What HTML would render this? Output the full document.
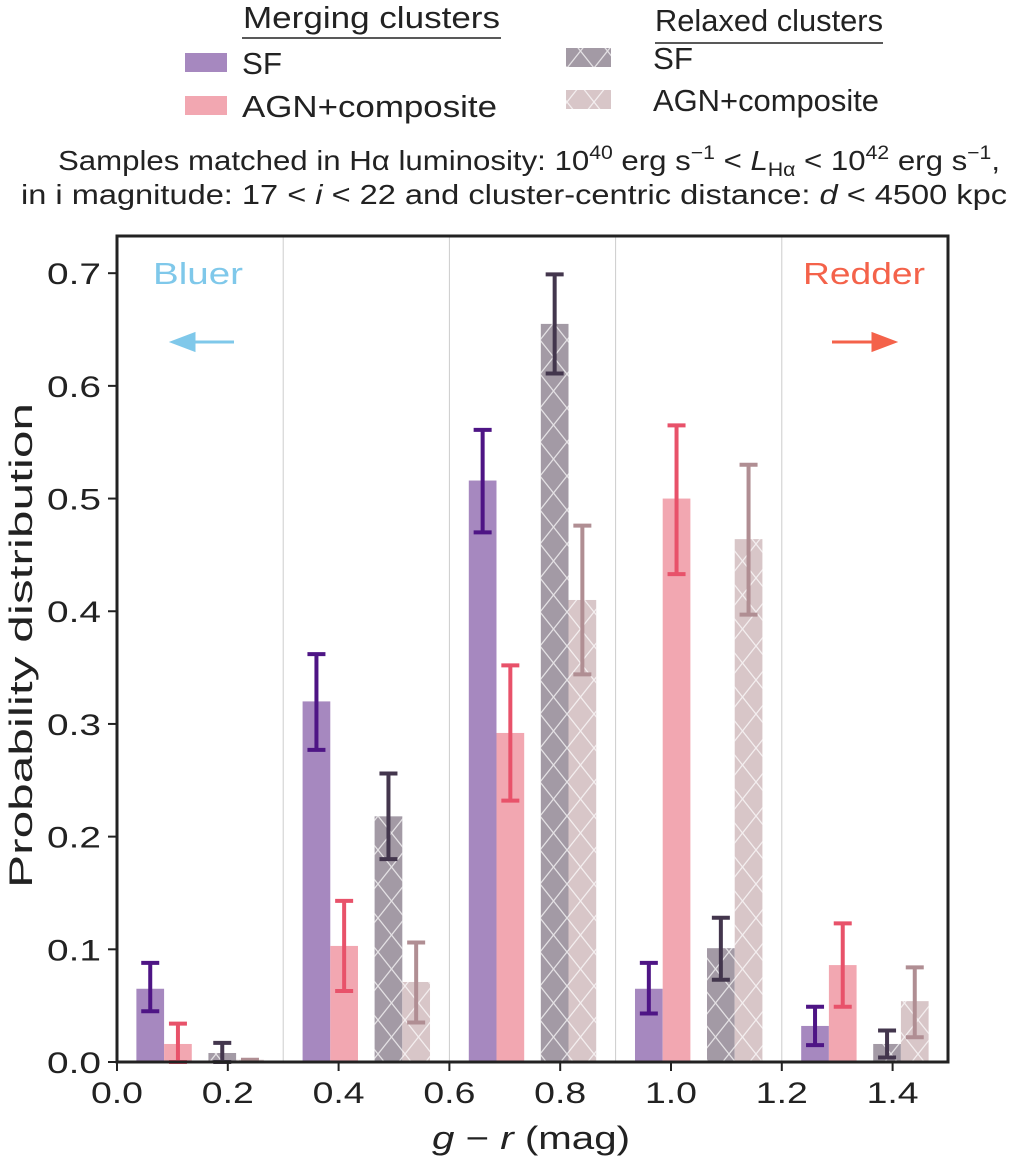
<!DOCTYPE html>
<html><head><meta charset="utf-8"><style>
body{margin:0;background:#fff;}
svg text{font-family:"Liberation Sans",sans-serif;fill:#222;}
</style></head><body>
<svg id="chart" width="1020" height="1162" xmlns="http://www.w3.org/2000/svg">
<defs>
<pattern id="hatch" patternUnits="userSpaceOnUse" width="27" height="34">
<path d="M0,0 L27,34 M27,0 L0,34" stroke="#fff" stroke-width="1.3" opacity="0.7"/>
</pattern>
</defs>
<g id="legend">
<text x="243" y="28" font-size="31" textLength="257" lengthAdjust="spacingAndGlyphs">Merging clusters</text>
<line x1="242" y1="38" x2="501" y2="38" stroke="#222" stroke-width="1.5"/>
<text x="655" y="31" font-size="31" textLength="228" lengthAdjust="spacingAndGlyphs">Relaxed clusters</text>
<line x1="655" y1="43" x2="883" y2="43" stroke="#222" stroke-width="1.5"/>
<rect x="185" y="53" width="42" height="19" fill="#a688bf"/>
<text x="242" y="74" font-size="31" textLength="40" lengthAdjust="spacingAndGlyphs">SF</text>
<rect x="185" y="96" width="42" height="19" fill="#f2a7b1"/>
<text x="242" y="117" font-size="31" textLength="255" lengthAdjust="spacingAndGlyphs">AGN+composite</text>
<rect x="566" y="48" width="45" height="19" fill="#a39aa5"/>
<rect x="566" y="48" width="45" height="19" fill="url(#hatch)"/>
<text x="653" y="69" font-size="31" textLength="40" lengthAdjust="spacingAndGlyphs">SF</text>
<rect x="566" y="90" width="45" height="19" fill="#d8c6c8"/>
<rect x="566" y="90" width="45" height="19" fill="url(#hatch)"/>
<text x="653" y="111" font-size="31" textLength="226" lengthAdjust="spacingAndGlyphs">AGN+composite</text>
</g>
<text x="58" y="170" font-size="28" textLength="942" lengthAdjust="spacingAndGlyphs">Samples matched in Hα luminosity: 10<tspan dy="-11" font-size="19">40</tspan><tspan dy="11"> erg s</tspan><tspan dy="-11" font-size="19">−1</tspan><tspan dy="11"> &lt; </tspan><tspan font-style="italic">L</tspan><tspan dy="6" font-size="19">Hα</tspan><tspan dy="-6"> &lt; 10</tspan><tspan dy="-11" font-size="19">42</tspan><tspan dy="11"> erg s</tspan><tspan dy="-11" font-size="19">−1</tspan><tspan dy="11">,</tspan></text>
<text x="21" y="204" font-size="28" textLength="986" lengthAdjust="spacingAndGlyphs">in i magnitude: 17 &lt; <tspan font-style="italic">i</tspan> &lt; 22 and cluster-centric distance: <tspan font-style="italic">d</tspan> &lt; 4500 kpc</text>
<g id="plot"></g>
</svg>
<script>
const binStarts=[0,0.3,0.6,0.9,1.2];
const mergSF=[0.065,0.32,0.516,0.065,0.032];
const mergSFLo=[0.045,0.277,0.47,0.043,0.015];
const mergSFHi=[0.088,0.362,0.561,0.088,0.049];
const mergAGN=[0.016,0.103,0.292,0.5,0.086];
const mergAGNLo=[0.0,0.063,0.232,0.433,0.049];
const mergAGNHi=[0.034,0.143,0.352,0.565,0.123];
const relSF=[0.008,0.218,0.655,0.101,0.016];
const relSFLo=[0.0,0.18,0.611,0.073,0.004];
const relSFHi=[0.017,0.256,0.699,0.128,0.028];
const relAGN=[0.002,0.071,0.41,0.464,0.054];
const relAGNLo=[0.002,0.035,0.344,0.397,0.022];
const relAGNHi=[0.002,0.106,0.476,0.53,0.084];
const xTicks=["0.0","0.2","0.4","0.6","0.8","1.0","1.2","1.4"];
const yTicks=["0.0","0.1","0.2","0.3","0.4","0.5","0.6","0.7"];

const L=117,R=948,T=236,B=1062;
const X=v=>L+(v/1.5)*(R-L);
const Y=v=>B-(v/0.733)*(B-T);
const NS="http://www.w3.org/2000/svg";
const g=document.getElementById('plot');
function el(tag,attrs){const e=document.createElementNS(NS,tag);for(const k in attrs)e.setAttribute(k,attrs[k]);g.appendChild(e);return e;}

[0.3,0.6,0.9,1.2].forEach(v=>{const l=el('line',{x1:X(v),x2:X(v),y1:T,y2:B,stroke:'#ccc','stroke-width':1});

});

const series=[
 {vals:mergSF,lo:mergSFLo,hi:mergSFHi,off:0.06,fill:'#a688bf',err:'#4e1585',hatch:false,name:'merging-sf'},
 {vals:mergAGN,lo:mergAGNLo,hi:mergAGNHi,off:0.11,fill:'#f2a7b1',err:'#e8526a',hatch:false,name:'merging-agn'},
 {vals:relSF,lo:relSFLo,hi:relSFHi,off:0.19,fill:'#a39aa5',err:'#43364d',hatch:true,name:'relaxed-sf'},
 {vals:relAGN,lo:relAGNLo,hi:relAGNHi,off:0.24,fill:'#d8c6c8',err:'#b08e93',hatch:true,name:'relaxed-agn'}];
const w=0.05;
series.forEach(s=>{
 s.vals.forEach((v,i)=>{
  const c=binStarts[i]+s.off;
  const x0=X(c-w/2),x1=X(c+w/2);
  const r=el('rect',{x:x0,y:Y(v),width:x1-x0,height:Y(0)-Y(v),fill:s.fill});
  
  
  if(s.hatch){el('rect',{x:x0,y:Y(v),width:x1-x0,height:Y(0)-Y(v),fill:'url(#hatch)'});}
 });
});
series.forEach(s=>{
 s.vals.forEach((v,i)=>{
  const c=X(binStarts[i]+s.off);
  const e=el('path',{d:`M${c},${Y(s.lo[i])}V${Y(s.hi[i])}M${c-9},${Y(s.lo[i])}H${c+9}M${c-9},${Y(s.hi[i])}H${c+9}`,stroke:s.err,'stroke-width':4,fill:'none'});
  
  
 });
});
const fr=el('rect',{x:L,y:T,width:R-L,height:B-T,fill:'none',stroke:'#222','stroke-width':3});


xTicks.forEach((t,i)=>{const x=X(i*0.2);el('line',{x1:x,x2:x,y1:B,y2:B+9,stroke:'#222','stroke-width':2});
 const tx=el('text',{x:x-26,y:B+41,'font-size':30,textLength:52,lengthAdjust:'spacingAndGlyphs'});tx.textContent=t;
 
 });
yTicks.forEach((t,i)=>{const y=Y(i*0.1);el('line',{x1:L-9,x2:L,y1:y,y2:y,stroke:'#222','stroke-width':2});
 const tx=el('text',{x:L-70,y:y+11,'font-size':30,textLength:54,lengthAdjust:'spacingAndGlyphs'});tx.textContent=t;
 
 });
const xt=el('text',{x:432,y:1149,'font-size':32,textLength:198,lengthAdjust:'spacingAndGlyphs'});
xt.innerHTML='<tspan font-style="italic">g</tspan> − <tspan font-style="italic">r</tspan> (mag)';


const yt=el('text',{x:0,y:0,'font-size':32,textLength:485,lengthAdjust:'spacingAndGlyphs',transform:'translate(32,888) rotate(-90)'});
yt.textContent='Probability distribution';


const bl=el('text',{x:153,y:284,'font-size':31,textLength:90,lengthAdjust:'spacingAndGlyphs',style:'fill:#7fc8ea'});bl.textContent='Bluer';


const ba=el('path',{d:'M234,342H185M194,334L173,342L194,350Z',stroke:'#7fc8ea','stroke-width':3,fill:'#7fc8ea'});


const rl=el('text',{x:803,y:284,'font-size':31,textLength:122,lengthAdjust:'spacingAndGlyphs',style:'fill:#f4624a'});rl.textContent='Redder';


const ra=el('path',{d:'M832,342H880M873,334L894,342L873,350Z',stroke:'#f4624a','stroke-width':3,fill:'#f4624a'});


</script>
</body></html>
